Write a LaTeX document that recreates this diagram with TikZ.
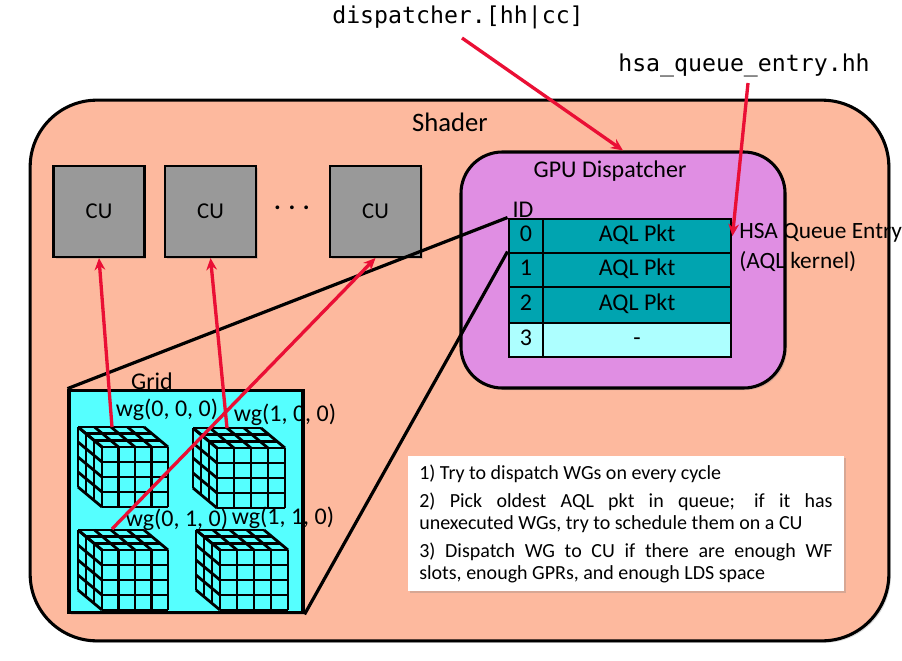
\documentclass[tikz,border=0pt]{standalone}
\usepackage{fontspec}
\usetikzlibrary{shadows,arrows.meta}
\setmainfont{Carlito}
\newfontfamily\codefont{DejaVu Sans Mono}
\definecolor{shader}{HTML}{FDB99E}
\definecolor{dispatch}{HTML}{E08EE3}
\definecolor{gridfill}{HTML}{55FFFF}
\definecolor{pktfull}{HTML}{00A4B0}
\definecolor{pktfree}{HTML}{ADFFFF}
\definecolor{cugrey}{HTML}{999999}
\definecolor{ptr}{HTML}{EA0F35}
\tikzset{
  soft/.style={drop shadow={shadow xshift=1.5pt,shadow yshift=-1.5pt,opacity=.3}},
  lbl/.style={inner sep=0pt,font=\fontsize{18}{21}\selectfont},
  code/.style={inner sep=0pt,font=\codefont\fontsize{17.4}{20}\selectfont},
  cubox/.style={draw=black,line width=1.8pt,fill=cugrey,minimum size=68pt,inner sep=0pt,soft,font=\fontsize{17}{19}\selectfont},
  idcell/.style={draw=black,line width=2.2pt,minimum width=25.5pt,inner sep=0pt,text height=10.5pt,text depth=2.5pt,font=\fontsize{18}{21}\selectfont},
  pktcell/.style={draw=black,line width=2.2pt,minimum width=141pt,inner sep=0pt,text height=10.5pt,text depth=2.5pt,font=\fontsize{18}{21}\selectfont},
  cubeline/.style={line width=2.1pt,black},
  redline/.style={ptr,line width=2.5pt,-{Stealth[length=9pt,width=8pt]}},
  blackline/.style={black,line width=2.4pt},
}
% #1,#2 front top left corner, #3 front width
\newcommand{\wgcube}[3]{%
  \foreach \i in {0,...,4}{
    \draw[cubeline] (#1+\i*#3/4,#2) -- ++(0,60);
    \draw[cubeline] (#1,#2+\i*15) -- ++(#3,0);
    \draw[cubeline] (#1+\i*#3/4,#2) -- ++(-24,-20);
    \draw[cubeline] (#1,#2+\i*15) -- ++(-24,-20);
  }
  \foreach \j in {1,2,3}{
    \draw[cubeline] (#1-\j*8,#2-\j*6.67) -- ++(#3,0);
    \draw[cubeline] (#1-\j*8,#2-\j*6.67) -- ++(0,60);
  }
}
\begin{document}
\begin{tikzpicture}[x=.75pt,y=-.75pt]
\useasboundingbox (0,0) rectangle (902,660);
\clip (0,0) rectangle (902,660);

\node[draw=black,line width=2.3pt,fill=shader,rounded corners=50pt,minimum width=644pt,minimum height=405.5pt,inner sep=0pt,soft] (shader) at (459.5,370.5) {};
\node[lbl,font=\fontsize{20}{23}\selectfont] (shaderlbl) at (450,122) {Shader};

\node[cubox] (cuA) at (99,211.5) {CU};
\node[cubox] (cuB) at (210.5,211.5) {CU};
\node[cubox] (cuC) at (375.5,211.5) {CU};
\node[lbl,font=\bfseries\fontsize{19}{23}\selectfont] (dots) at (292,208) {. . .};

\node[draw=black,line width=2.3pt,fill=dispatch,rounded corners=31pt,minimum width=243pt,minimum height=177pt,inner sep=0pt,soft] (disp) at (623,270) {};
\node[lbl] (displbl) at (610,171) {GPU Dispatcher};
\node[lbl] (idlbl) at (523,210) {ID};

% queue table
\foreach \n/\y/\h/\c/\t in {0/236/25.5/pktfull/AQL Pkt,1/270/25.5/pktfull/AQL Pkt,2/305/27/pktfull/AQL Pkt,3/340/25.5/pktfree/-}{
  \node[idcell,fill=\c,minimum height=\h pt] (id\n) at (526,\y) {\n};
  \node[pktcell,fill=\c,minimum height=\h pt] (pkt\n) at (637,\y) {\t};
}

\node[draw=black,line width=2.3pt,fill=gridfill,minimum width=175.5pt,minimum height=167pt,inner sep=0pt,soft] (grid) at (186,501.5) {};
\node[lbl] (gridlbl) at (152,381) {Grid};

\wgcube{102}{447}{66}
\wgcube{217}{448}{68}
\wgcube{102}{550}{66}
\wgcube{220}{550}{68}

\node[lbl] (wgA) at (167,410) {wg(0, 0, 0)};
\node[lbl] (wgB) at (285,415) {wg(1, 0, 0)};
\node[lbl] (wgC) at (177,520) {wg(0, 1, 0)};
\node[lbl] (wgD) at (283,518) {wg(1, 1, 0)};

\node[anchor=west,lbl,font=\fontsize{17.5}{21}\selectfont] (entrya) at (739,233) {HSA Queue Entry};
\node[anchor=west,lbl,font=\fontsize{17.5}{21}\selectfont] (entryb) at (739,262) {(AQL kernel)};

\node[code] (dispfile) at (458,17) {dispatcher.[hh|cc]};
\node[code] (entryfile) at (744,65) {hsa\_queue\_entry.hh};

\node[fill=white,anchor=north west,minimum width=327pt,minimum height=101pt,inner sep=0pt,soft] (notes) at (408,456) {};
\node[anchor=north west,inner sep=0pt,text width=310pt,align=justify,font=\fontsize{15}{16.5}\selectfont] (notestxt) at (419,465) {%
1) Try to dispatch WGs on every cycle\\[4.5pt]
2) Pick oldest AQL pkt in queue; if it has\linebreak unexecuted WGs, try to schedule them on a CU\\[4.5pt]
3) Dispatch WG to CU if there are enough WF\linebreak slots, enough GPRs, and enough LDS space};

\coordinate (cubeA) at (112,427);
\coordinate (cubeB) at (227,428);
\coordinate (cubeC) at (112,529);
\coordinate (dispfrom) at (462,38);
\coordinate (entryfrom) at (748,83);

\draw[blackline] (grid.north west) -- (id0.north west);
\draw[blackline] (grid.south east) -- (id1.north west);

\draw[redline] (cubeA) -- (cuA.south);
\draw[redline] (cubeB) -- (cuB.south);
\draw[redline] (cubeC) -- (cuC.south);
\draw[redline] (dispfrom) -- (disp.north);
\draw[redline] (entryfrom) -- (pkt0.east);
\end{tikzpicture}
\end{document}
